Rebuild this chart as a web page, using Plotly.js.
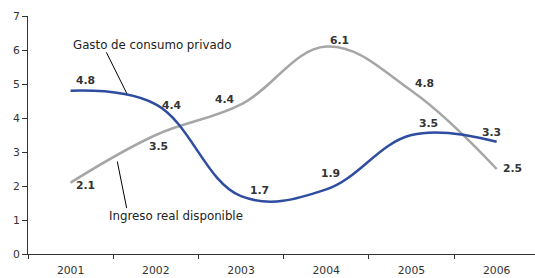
<!DOCTYPE html>
<html>
<head>
<meta charset="utf-8">
<script src="https://cdn.plot.ly/plotly-3.0.1.min.js"></script>
<style>html,body{margin:0;padding:0;background:#fff;}#chart{width:535px;height:278px;}</style>
</head>
<body>
<div id="chart"></div>
<script>
const years = ["2001", "2002", "2003", "2004", "2005", "2006"];
const gastoConsumo = [4.8, 4.4, 1.7, 1.9, 3.5, 3.3];
const ingresoReal = [2.1, 3.5, 4.4, 6.1, 4.8, 2.5];
const yTicks = [0, 1, 2, 3, 4, 5, 6, 7];

const blue = "#2F4DA0";
const gray = "#A6A6A6";
const font = "DejaVu Sans, Verdana, sans-serif";

// label pixel offsets [xshift, yshift]
const gastoOffsets = [[15, 10], [16, -1], [18, 6], [4, 16], [17, 12], [-5, 9]];
const ingresoOffsets = [[15, -3], [3, -11], [-16, 5], [13, 6], [13, 7], [16, 1]];

const traces = [
  {x: years, y: ingresoReal, type: "scatter", mode: "lines",
   line: {color: gray, width: 2.5, shape: "spline", smoothing: 1.1}, hoverinfo: "none"},
  {x: years, y: gastoConsumo, type: "scatter", mode: "lines",
   line: {color: blue, width: 2.5, shape: "spline", smoothing: 1.1}, hoverinfo: "none"}
];

const annotations = [];
function addLabels(vals, offs) {
  vals.forEach((v, i) => {
    annotations.push({x: i, y: v, xref: "x", yref: "y", text: "<b>" + v.toFixed(1) + "</b>",
      showarrow: false, xshift: offs[i][0], yshift: offs[i][1],
      font: {family: font, size: 10.8, color: "#333"}});
  });
}
addLabels(gastoConsumo, gastoOffsets);
addLabels(ingresoReal, ingresoOffsets);

annotations.push({x: 0.96, y: 6.15, xref: "x", yref: "y", text: "Gasto de consumo privado",
  showarrow: false, font: {family: font, size: 11.8, color: "#222"}});
annotations.push({x: 1.24, y: 1.12, xref: "x", yref: "y", text: "Ingreso real disponible",
  showarrow: false, font: {family: font, size: 11.8, color: "#222"}});

const shapes = [
  {type: "line", xref: "x", yref: "y", x0: 0.42, y0: 5.93, x1: 0.66, y1: 4.72,
   line: {color: "#000", width: 1}},
  {type: "line", xref: "x", yref: "y", x0: 0.548, y0: 2.72, x1: 0.658, y1: 1.35,
   line: {color: "#000", width: 1}}
];

const layout = {
  width: 535, height: 278,
  margin: {l: 28, r: 0, t: 16, b: 24, pad: 0},
  paper_bgcolor: "#fff", plot_bgcolor: "#fff",
  showlegend: false,
  font: {family: font, size: 10.5, color: "#333"},
  xaxis: {type: "category", range: [-0.5, 5.45], tickson: "boundaries",
    ticks: "outside", ticklen: 4, tickcolor: "#333", showline: true, linecolor: "#333",
    linewidth: 1, showgrid: false, zeroline: false, fixedrange: true,
    ticklabelstandoff: 6,
    tickfont: {family: font, size: 10.8, color: "#333"}},
  yaxis: {range: [0, 7], tickvals: yTicks, ticks: "outside", ticklen: 5,
    tickcolor: "#333", showline: true, linecolor: "#333", linewidth: 1,
    showgrid: false, zeroline: false, fixedrange: true,
    tickfont: {family: font, size: 10.8, color: "#333"}},
  annotations: annotations,
  shapes: shapes
};

Plotly.newPlot("chart", traces, layout, {displayModeBar: false, staticPlot: true});
</script>
</body>
</html>
